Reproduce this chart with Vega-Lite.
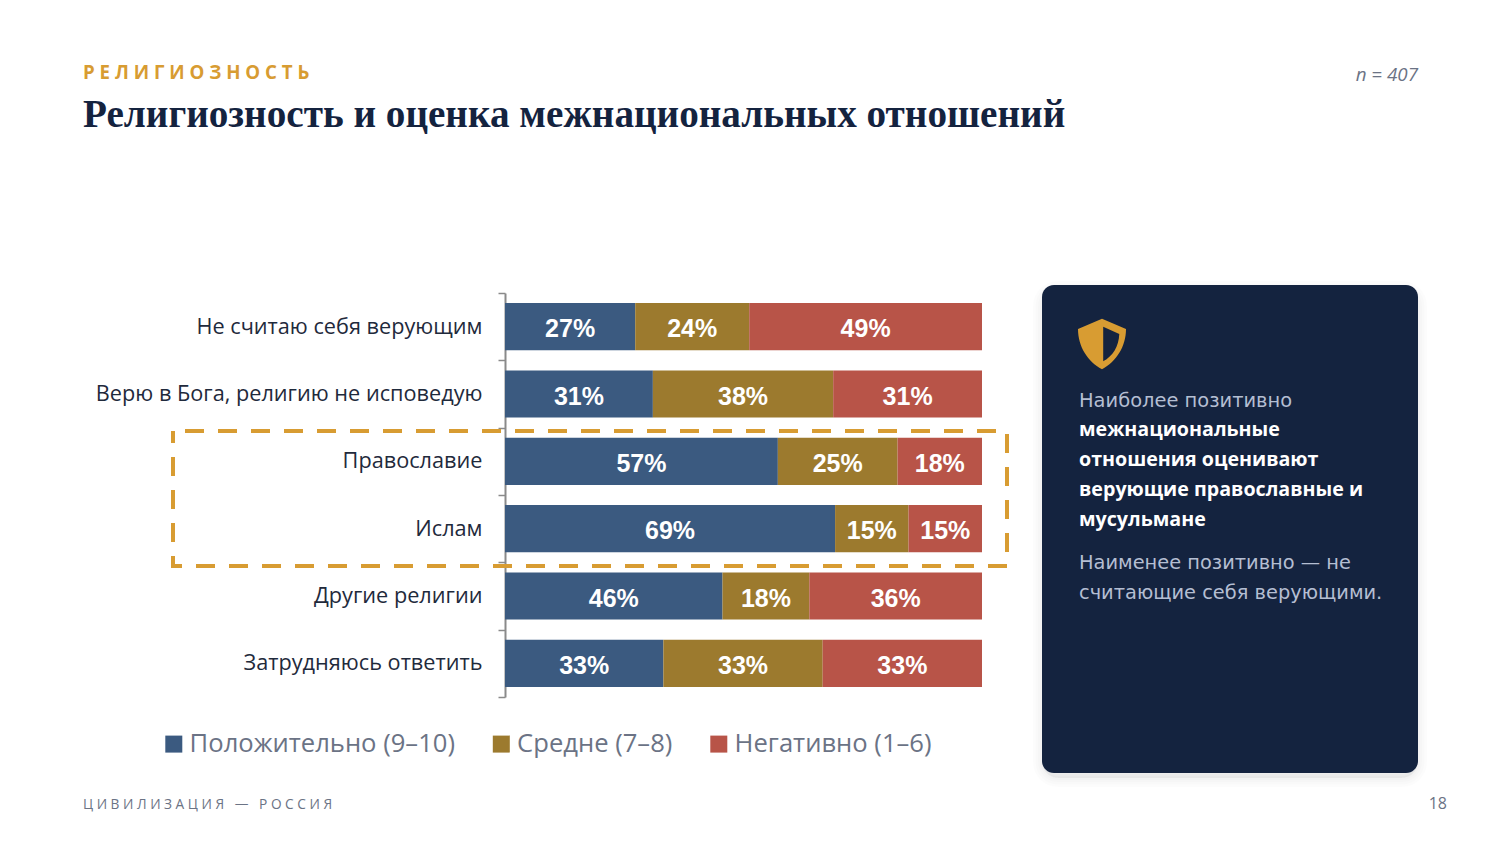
{
  "$schema": "https://vega.github.io/schema/vega-lite/v6.json",
  "autosize": {"type": "none"},
  "padding": {"left": 505, "top": 293, "right": 518, "bottom": 147},
  "width": 477,
  "height": 404,
  "background": "#FFFFFF",
  "config": {"view": {"stroke": null}},
  "data": {
    "values": [
      {"group": "Не считаю себя верующим", "answer": "Положительно (9–10)", "value": 27.3},
      {"group": "Не считаю себя верующим", "answer": "Средне (7–8)", "value": 23.9},
      {"group": "Не считаю себя верующим", "answer": "Негативно (1–6)", "value": 48.8},
      {"group": "Верю в Бога, религию не исповедую", "answer": "Положительно (9–10)", "value": 31},
      {"group": "Верю в Бога, религию не исповедую", "answer": "Средне (7–8)", "value": 37.8},
      {"group": "Верю в Бога, религию не исповедую", "answer": "Негативно (1–6)", "value": 31.2},
      {"group": "Православие", "answer": "Положительно (9–10)", "value": 57.2},
      {"group": "Православие", "answer": "Средне (7–8)", "value": 25.1},
      {"group": "Православие", "answer": "Негативно (1–6)", "value": 17.7},
      {"group": "Ислам", "answer": "Положительно (9–10)", "value": 69.2},
      {"group": "Ислам", "answer": "Средне (7–8)", "value": 15.4},
      {"group": "Ислам", "answer": "Негативно (1–6)", "value": 15.4},
      {"group": "Другие религии", "answer": "Положительно (9–10)", "value": 45.6},
      {"group": "Другие религии", "answer": "Средне (7–8)", "value": 18.2},
      {"group": "Другие религии", "answer": "Негативно (1–6)", "value": 36.2},
      {"group": "Затрудняюсь ответить", "answer": "Положительно (9–10)", "value": 33.2},
      {"group": "Затрудняюсь ответить", "answer": "Средне (7–8)", "value": 33.4},
      {"group": "Затрудняюсь ответить", "answer": "Негативно (1–6)", "value": 33.4}
    ]
  },
  "transform": [
    {"calculate": "indexof(['Положительно (9–10)','Средне (7–8)','Негативно (1–6)'], datum.answer)", "as": "order"},
    {"stack": "value", "groupby": ["group"], "sort": [{"field": "order"}], "as": ["x0", "x1"]},
    {"calculate": "(datum.x0 + datum.x1) / 2", "as": "mid"},
    {"calculate": "format(datum.value, '.0f') + '%'", "as": "label"}
  ],
  "layer": [
    {
      "data": {"values": [{"grow": 18}, {"grow": 13}, {"grow": 8}, {"grow": 4}]},
      "transform": [],
      "mark": {"type": "rect", "fill": "#000000", "fillOpacity": 0.01, "cornerRadius": 16, "x": 537, "x2": 913, "y": -3, "y2": 485, "stroke": "#000000", "strokeOpacity": 0.012},
      "encoding": {"strokeWidth": {"field": "grow", "type": "quantitative", "scale": null}}
    },
    {
      "data": {"values": [{}]},
      "transform": [],
      "mark": {"type": "rect", "fill": "#14233F", "cornerRadius": 12, "x": 537, "x2": 913, "y": -8, "y2": 480},
      "encoding": {}
    },
    {
      "mark": {"type": "bar", "stroke": null, "height": {"band": 0.7}},
      "encoding": {
        "x": {"field": "x0", "type": "quantitative", "scale": {"domain": [0, 100], "nice": false}, "axis": null},
        "x2": {"field": "x1"},
        "y": {
          "field": "group",
          "type": "nominal",
          "sort": null,
          "title": null,
          "scale": {"padding": 0},
          "axis": {
            "domainColor": "#8A8A8A",
            "domainWidth": 2,
            "tickColor": "#8A8A8A",
            "tickWidth": 1.5,
            "tickSize": 7,
            "tickBand": "extent",
            "labelFont": "Open Sans",
            "labelFontSize": 21.7,
            "labelColor": "#1F2A3C",
            "labelPadding": 16,
            "labelLimit": 420,
            "labelOffset": -0.5,
            "grid": false
          }
        },
        "color": {
          "field": "answer",
          "type": "nominal",
          "scale": {
            "domain": ["Положительно (9–10)", "Средне (7–8)", "Негативно (1–6)"],
            "range": ["#3B5A80", "#9C7A2E", "#B85448"]
          },
          "legend": {
            "orient": "none",
            "legendX": -344,
            "legendY": 438,
            "direction": "horizontal",
            "title": null,
            "symbolType": "square",
            "symbolSize": 289,
            "symbolStrokeWidth": 0,
            "labelFont": "Open Sans",
            "labelFontSize": 25.6,
            "labelColor": "#6B7385",
            "labelOffset": 3,
            "columnPadding": 33.5,
            "labelLimit": 400
          }
        }
      }
    },
    {
      "mark": {"type": "text", "font": "Liberation Sans", "fontWeight": "bold", "fontSize": 25, "color": "#FFFFFF", "dy": 2.5},
      "encoding": {
        "x": {"field": "mid", "type": "quantitative"},
        "y": {"field": "group", "type": "nominal", "sort": null},
        "text": {"field": "label"}
      }
    },
    {
      "data": {"values": [{}]},
      "transform": [],
      "mark": {"type": "rect", "fill": null, "stroke": "#D89C32", "strokeWidth": 4, "strokeDash": [19, 14], "strokeDashOffset": 21, "x": -332, "x2": 502, "y": 138, "y2": 273},
      "encoding": {}
    },
    {
      "data": {"values": [{}]},
      "transform": [],
      "mark": {"type": "text", "text": "Р Е Л И Г И О З Н О С Т Ь", "font": "Open Sans", "fontWeight": "bold", "fontSize": 18.7, "color": "#D89C32", "align": "left", "baseline": "alphabetic", "x": -422, "y": -214},
      "encoding": {}
    },
    {
      "data": {"values": [{}]},
      "transform": [],
      "mark": {"type": "text", "text": "Религиозность и оценка межнациональных отношений", "font": "Liberation Serif", "fontWeight": "bold", "fontSize": 39.2, "color": "#14233F", "align": "left", "baseline": "alphabetic", "x": -422, "y": -166},
      "encoding": {}
    },
    {
      "data": {"values": [{}]},
      "transform": [],
      "mark": {"type": "text", "text": "n = 407", "font": "Open Sans", "fontStyle": "italic", "fontSize": 18.8, "color": "#6B7385", "align": "right", "baseline": "alphabetic", "x": 913, "y": -212},
      "encoding": {}
    },
    {
      "data": {"values": [{}]},
      "transform": [],
      "mark": {"type": "text", "text": "Ц И В И Л И З А Ц И Я\u00A0\u00A0\u00A0—\u00A0\u00A0\u00A0Р О С С И Я", "font": "Open Sans", "fontSize": 13.7, "color": "#6B7385", "align": "left", "baseline": "alphabetic", "x": -422, "y": 516},
      "encoding": {}
    },
    {
      "data": {"values": [{}]},
      "transform": [],
      "mark": {"type": "text", "text": "18", "font": "Open Sans", "fontSize": 16, "color": "#6B7385", "align": "right", "baseline": "alphabetic", "x": 942, "y": 516},
      "encoding": {}
    },
    {
      "data": {"values": [{}]},
      "transform": [],
      "mark": {"type": "point", "shape": "M0,-1.05 L1,-0.62 C1,0.1 0.6,0.75 0,1.05 C-0.6,0.75 -1,0.1 -1,-0.62 Z M0.05,-0.72 L0.05,0.72 C0.45,0.5 0.7,0.1 0.72,-0.42 Z", "filled": true, "fill": "#D89C32", "opacity": 1, "size": 2304, "x": 597, "y": 51},
      "encoding": {}
    },
    {
      "data": {"values": [{}]},
      "transform": [],
      "mark": {"type": "text", "text": "Наиболее позитивно", "font": "DejaVu Sans", "fontSize": 19.45, "color": "#B4BED2", "align": "left", "baseline": "alphabetic", "x": 574, "y": 114},
      "encoding": {}
    },
    {
      "data": {"values": [{}]},
      "transform": [],
      "mark": {"type": "text", "text": ["межнациональные", "отношения оценивают", "верующие православные и", "мусульмане"], "lineHeight": 30, "font": "Open Sans", "fontWeight": "bold", "fontSize": 19.65, "color": "#FFFFFF", "align": "left", "baseline": "alphabetic", "x": 574, "y": 143},
      "encoding": {}
    },
    {
      "data": {"values": [{}]},
      "transform": [],
      "mark": {"type": "text", "text": ["Наименее позитивно — не", "считающие себя верующими."], "lineHeight": 30, "font": "DejaVu Sans", "fontSize": 19.4, "color": "#B4BED2", "align": "left", "baseline": "alphabetic", "x": 574, "y": 276},
      "encoding": {}
    }
  ]
}
